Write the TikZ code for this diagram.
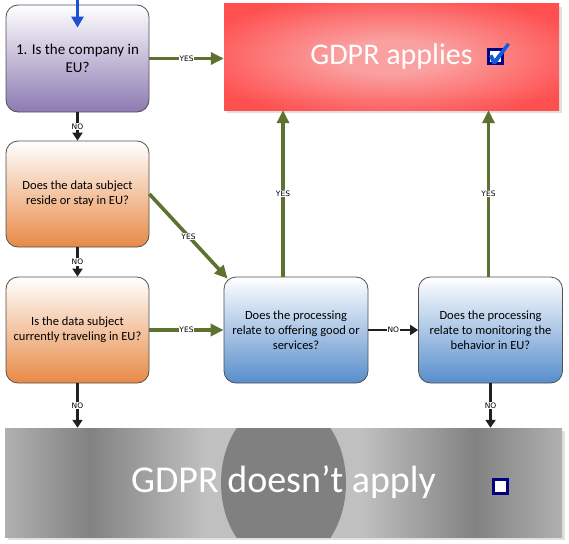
\documentclass[tikz,border=0pt]{standalone}
\usepackage{fontspec}
\setmainfont{Carlito}
\newfontfamily\lblfont{DejaVu Sans}
\usetikzlibrary{arrows.meta,shadows}

\definecolor{yesgreen}{RGB}{94,114,48}
\definecolor{nodark}{RGB}{32,32,32}
\definecolor{boxline}{RGB}{80,80,80}
\definecolor{purpleB}{RGB}{140,122,178}
\definecolor{orangeB}{RGB}{232,138,70}
\definecolor{blueB}{RGB}{88,142,204}
\definecolor{redIn}{RGB}{250,160,160}
\definecolor{redOut}{RGB}{255,80,80}
\definecolor{navybox}{RGB}{0,0,128}
\definecolor{checkblue}{RGB}{20,90,220}
\definecolor{entryblue}{RGB}{30,80,210}
\definecolor{gA}{RGB}{176,176,176}
\definecolor{gB}{RGB}{160,160,160}
\definecolor{gC}{RGB}{130,130,130}
\definecolor{gF}{RGB}{192,192,192}

\pgfdeclareradialshading{redglow}{\pgfpoint{0bp}{0bp}}{color(0bp)=(redIn); color(8bp)=(redIn); color(30bp)=(redOut); color(50bp)=(redOut)}
\pgfdeclarehorizontalshading{greyband}{100bp}{color(0bp)=(gA); color(25bp)=(gA); color(32.6bp)=(gC); color(43bp)=(gF); color(57bp)=(gF); color(67.2bp)=(gC); color(75bp)=(gA); color(100bp)=(gA)}

\tikzset{
  qbox/.style={draw=boxline, line width=0.8pt, rounded corners=12pt,
    minimum width=143pt, minimum height=106pt, inner sep=2pt, align=center,
    font=\fontsize{12.5}{15}\selectfont},
  purplebox/.style={qbox, top color=white, middle color=white!68!purpleB, bottom color=purpleB},
  orangebox/.style={qbox, top color=white, middle color=white!70!orangeB, bottom color=orangeB},
  bluebox/.style={qbox, minimum width=144pt, top color=white, middle color=white!70!blueB, bottom color=blueB},
  lbl/.style={font=\lblfont\fontsize{7.5}{8}\selectfont, fill=white, inner sep=0.8pt, text=black},
  yesarrow/.style={draw=yesgreen, line width=3.6pt, -{Triangle[length=13pt,width=12pt]}},
  noarrow/.style={draw=nodark, line width=2.8pt, -{Triangle[length=8pt,width=10pt]}},
  chkbox/.style={draw=navybox, line width=3pt, fill=white, minimum size=14pt, inner sep=0pt},
  shadowed/.style={drop shadow={shadow xshift=3pt, shadow yshift=-3pt, fill=black!12, opacity=1}}
}

\begin{document}
\begin{tikzpicture}[x=1pt,y=-1pt]
\useasboundingbox (0,0) rectangle (569,543);
\node[shadowed, shading=redglow, minimum width=335pt, minimum height=106pt, text=white, font=\fontsize{30}{36}\selectfont] (red) at (391.5,57) {GDPR applies};
\node[chkbox] (applybox) at (495.5,56.5) {};
\fill[checkblue] (489,56) -- (492.5,54.5) -- (494.5,59) -- (507,43) -- (510,44.5) -- (496,64) -- (492.5,64) -- cycle;
\node[shadowed, shading=greyband, minimum width=557pt, minimum height=109pt, text=white, font=\fontsize{38}{44}\selectfont,
  path picture={\fill[gray] ([yshift=-0.5pt]path picture bounding box.center) ellipse [x radius=62.5pt, y radius=83pt];}] (grey) at (283.5,482.5) {GDPR doesn’t apply};
\node[chkbox] (notbox) at (500,486) {};

\node[purplebox, minimum height=107pt, font=\fontsize{15}{18}\selectfont] (box1) at (77.5,58.5) {1. Is the company in\\EU?};
\node[orangebox] (box2) at (77.5,194) {Does the data subject\\reside or stay in EU?};
\node[orangebox] (box3) at (77.5,330) {Is the data subject\\currently traveling in EU?};
\node[bluebox] (box4) at (296,330) {Does the processing\\relate to offering good or\\services?};
\node[bluebox] (box5) at (490.5,330) {Does the processing\\relate to monitoring the\\behavior in EU?};

\coordinate (entry) at (77.5,0);
\draw[draw=entryblue, line width=3.4pt, -{Triangle[length=11pt,width=12pt]}] (entry) -- ([yshift=-23pt]box1.north);
\draw[yesarrow] (box1.east) -- (box1.east -| red.west) node[lbl,midway]{YES};
\draw[noarrow] (box1.south) -- (box2.north) node[lbl,midway]{NO};
\draw[noarrow] (box2.south) -- (box3.north) node[lbl,midway]{NO};
\draw[yesarrow] (box2.east) -- ([xshift=4pt,yshift=-2pt]box4.north west) node[lbl,midway]{YES};
\draw[yesarrow] (box3.east) -- (box4.west) node[lbl,midway]{YES};
\draw[noarrow] (box4.east) -- (box5.west) node[lbl,midway]{NO};
\draw[yesarrow] ([xshift=-13pt]box4.north) -- ([xshift=-13pt]box4.north |- red.south) node[lbl,midway]{YES};
\draw[yesarrow] ([xshift=-2pt]box5.north) -- ([xshift=-2pt]box5.north |- red.south) node[lbl,midway]{YES};
\draw[noarrow] (box3.south) -- (box3.south |- grey.north) node[lbl,midway]{NO};
\draw[noarrow] (box5.south) -- (box5.south |- grey.north) node[lbl,midway]{NO};
\end{tikzpicture}
\end{document}
